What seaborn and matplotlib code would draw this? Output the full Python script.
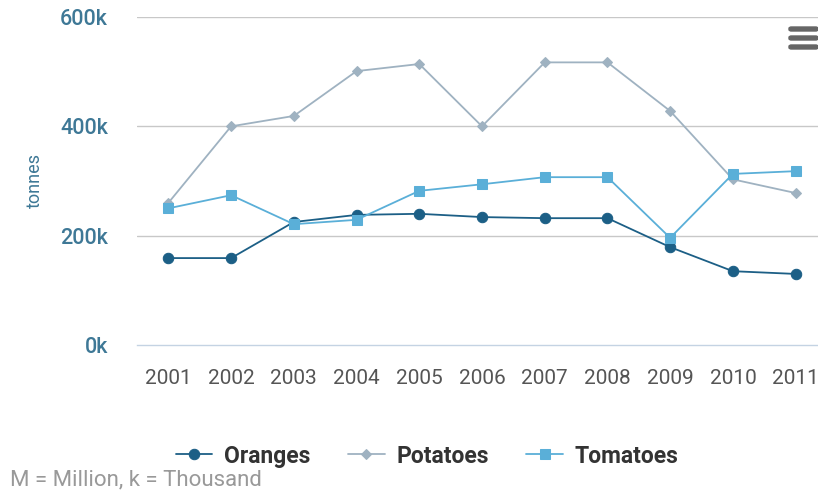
import matplotlib
matplotlib.use("Agg")
import matplotlib.pyplot as plt
import seaborn as sns
import pandas as pd
from matplotlib.patches import FancyBboxPatch

years = ["2001", "2002", "2003", "2004", "2005", "2006", "2007", "2008", "2009", "2010", "2011"]
oranges = [159, 159, 225, 238, 240, 234, 232, 232, 179, 135, 130]
potatoes = [260, 400, 419, 501, 514, 400, 517, 517, 428, 303, 278]
tomatoes = [250, 274, 221, 229, 282, 294, 307, 307, 196, 313, 318]
y_ticks = [0, 200, 400, 600]
y_tick_labels = ["0k", "200k", "400k", "600k"]

sns.set_theme(style="white")
plt.rcParams["font.family"] = ["Roboto", "DejaVu Sans"]

W, H = 818, 494
fig = plt.figure(figsize=(W / 100, H / 100), dpi=100)
left, right, top, bottom = 137, 827, 17, 345
ax = fig.add_axes([left / W, 1 - bottom / H, (right - left) / W, (bottom - top) / H])

series = [
    ("Oranges", oranges, "#1c5f86", "o", 7.5),
    ("Potatoes", potatoes, "#9fb2c1", "D", 5.5),
    ("Tomatoes", tomatoes, "#5aafd8", "s", 7.5),
]
x = list(range(len(years)))
for name, vals, col, mk, ms in series:
    df = pd.DataFrame({"x": x, "y": vals})
    sns.lineplot(data=df, x="x", y="y", ax=ax, color=col, marker=mk, markersize=ms,
                 markeredgecolor=col, linewidth=1.3, label=name)

ax.set_xlim(-0.5, 10.5)
ax.set_ylim(0, 600)
ax.set_yticks(y_ticks)
ax.set_yticklabels(y_tick_labels)
ax.set_xticks(x)
ax.set_xticklabels(years)
ax.tick_params(axis="x", length=0, pad=17, labelsize=15, labelcolor="#555555")
ax.tick_params(axis="y", length=0, pad=21, labelsize=15.5, labelcolor="#3e7896")
for t in ax.get_yticklabels():
    t.set_fontweight("medium")
# category boundary ticks
ax.set_xticks([i - 0.5 for i in range(len(years))], minor=True)
ax.tick_params(axis="x", which="minor", length=12, width=1, color="#c4d3e3", direction="out")
for yv in y_ticks[1:]:
    ax.axhline(yv, color="#c8c8c8", linewidth=1, zorder=0)
for s in ["top", "right", "left"]:
    ax.spines[s].set_visible(False)
ax.spines["bottom"].set_color("#c4d3e3")
ax.spines["bottom"].set_linewidth(1)
ax.set_xlabel("")
ax.set_ylabel("tonnes", color="#3e7896", fontsize=13)
ax.yaxis.set_label_coords(-(137 - 44) / (right - left), (345 - 181) / (bottom - top))
ax.grid(False)

leg = ax.legend(loc="center", bbox_to_anchor=(427 / W, 1 - 456 / H), bbox_transform=fig.transFigure,
                ncol=3, frameon=False, fontsize=16.5, handlelength=1.6, columnspacing=1.65,
                handletextpad=0.5)
for t in leg.get_texts():
    t.set_color("#333333")
    t.set_fontweight("bold")

fig.text(10 / W, 1 - 480 / H, "M = Million, k = Thousand", fontsize=16, color="#999999", va="center")

# menu icon
for yy in [29, 38, 47]:
    fig.patches.append(FancyBboxPatch((789 / W, 1 - (yy + 2) / H), 29 / W, 4 / H,
                                      boxstyle="round,pad=0,rounding_size=0.003",
                                      transform=fig.transFigure, color="#666666"))

fig.savefig("out.png", dpi=100)
